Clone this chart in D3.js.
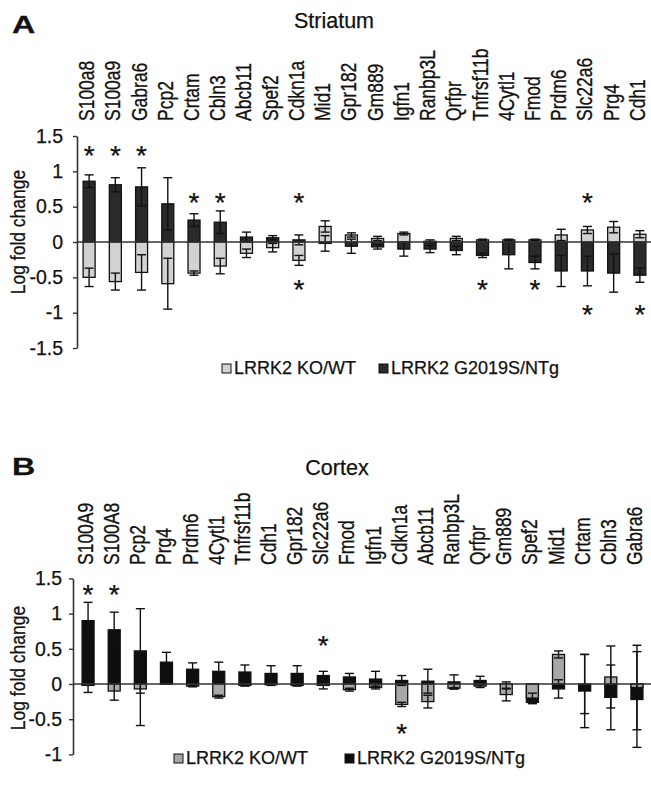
<!DOCTYPE html>
<html>
<head>
<meta charset="utf-8">
<script src="https://cdn.jsdelivr.net/npm/d3@7"></script>
<style>
  body { margin: 0; background: #fff; }
  svg { display: block; }
  text { font-family: "Liberation Sans", Arial, sans-serif; fill: #111; stroke: #111; stroke-width: 0.25px; }
</style>
</head>
<body>
<script>
// Striatum (panel A)
var genesA = ['S100a8','S100a9','Gabra6','Pcp2','Crtam','Cbln3','Abcb11','Spef2','Cdkn1a','Mid1','Gpr182',
   'Gm889','Igfn1','Ranbp3L','Qrfpr','Tnfrsf11b','4Cytl1','Fmod','Prdm6','Slc22a6','Prg4','Cdh1'];
var koA    = [-0.50,-0.56,-0.43,-0.59,-0.44,-0.34,-0.16,-0.08,-0.26, 0.22, 0.10, 0.05, 0.12, 0.01, 0.05, 0.03, 0.03, 0.03, 0.10, 0.17, 0.21, 0.11];
var koErrA = [ 0.13, 0.12, 0.25, 0.36, 0.03, 0.11, 0.06, 0.06, 0.07, 0.08, 0.03, 0.03, 0.02, 0.02, 0.03, 0.01, 0.01, 0.01, 0.08, 0.05, 0.08, 0.05];
var tgA    = [ 0.86, 0.81, 0.78, 0.54, 0.31, 0.28, 0.07, 0.06, 0.03,-0.02,-0.06,-0.07,-0.10,-0.10,-0.12,-0.19,-0.18,-0.29,-0.41,-0.41,-0.44,-0.47];
var tgErrA = [ 0.09, 0.10, 0.27, 0.37, 0.09, 0.16, 0.07, 0.03, 0.07, 0.11, 0.10, 0.03, 0.10, 0.05, 0.06, 0.03, 0.20, 0.09, 0.22, 0.21, 0.27, 0.10];
var starGenesA = ['S100a8','S100a9','Gabra6','Crtam','Cbln3','Cdkn1a','Cdkn1a','Tnfrsf11b','Fmod','Slc22a6','Slc22a6','Cdh1'];
var starValsA  = [ 1.33, 1.33, 1.33, 0.67, 0.67, 0.67, -0.56, -0.56, -0.56, 0.67, -0.92, -0.92];
var ticksA = [1.5, 1, 0.5, 0, -0.5, -1, -1.5];
var tickLabelsA = ['1.5','1','0.5','0','-0.5','-1','-1.5'];

// Cortex (panel B)
var genesB = ['S100A9','S100A8','Pcp2','Prg4','Prdm6','4Cytl1','Tnfrsf11b','Cdh1','Gpr182','Slc22a6','Fmod',
   'Igfn1','Cdkn1a','Abcb11','Ranbp3L','Qrfpr','Gm889','Spef2','Mid1','Crtam','Cbln3','Gabra6'];
var koB    = [-0.02,-0.10,-0.07, 0.01,-0.03,-0.18,-0.02,-0.01,-0.02,-0.02,-0.08,-0.05,-0.29,-0.25,-0.06,-0.03,-0.15,-0.20, 0.42, 0.00, 0.10,-0.05];
var koErrB = [ 0.10, 0.13, 0.52, 0.01, 0.01, 0.02, 0.01, 0.01, 0.01, 0.05, 0.02, 0.02, 0.03, 0.09, 0.01, 0.02, 0.09, 0.07, 0.05, 0.42, 0.44, 0.60];
var tgB    = [ 0.90, 0.77, 0.47, 0.31, 0.21, 0.18, 0.17, 0.15, 0.15, 0.12, 0.10, 0.07, 0.05, 0.04, 0.03, 0.05,-0.02,-0.26,-0.07,-0.10,-0.19,-0.22];
var tgErrB = [ 0.26, 0.25, 0.60, 0.14, 0.09, 0.13, 0.10, 0.11, 0.11, 0.06, 0.05, 0.11, 0.07, 0.17, 0.10, 0.06, 0.05, 0.02, 0.13, 0.52, 0.46, 0.68];
var starGenesB = ['S100A9','S100A8','Slc22a6','Cdkn1a'];
var starValsB  = [ 1.38, 1.38, 0.66, -0.59];
var ticksB = [1.5, 1, 0.5, 0, -0.5, -1];
var tickLabelsB = ['1.5','1','0.5','0','-0.5','-1'];

var seriesNames = ['LRRK2 KO/WT', 'LRRK2 G2019S/NTg'];

var svg = d3.select('body').append('svg')
   .attr('width', 651)
   .attr('height', 786);

function drawPanel(p){
   var x = d3.scaleBand().domain(p.genes).range(p.xr);
   var y = d3.scaleLinear().domain([p.ticks[p.ticks.length-1], p.ticks[0]]).range(p.yr);
   var g = svg.append('g');
   var bw = 12;

   // panel letter + title
   g.append('text')
      .attr('transform', 'translate(' + p.letterPos[0] + ',' + p.letterPos[1] + ') scale(1.4,1)')
      .attr('font-size', 23).attr('font-weight', 'bold')
      .text(p.letter);
   g.append('text')
      .attr('x', p.titlePos[0]).attr('y', p.titlePos[1])
      .attr('text-anchor', 'middle').attr('font-size', 21.5)
      .text(p.title);

   // gene labels
   g.selectAll('.gene').data(p.genes).enter()
      .append('text')
      .attr('class', 'gene')
      .attr('font-size', 17.5)
      .attr('transform', function(d){
         return 'translate(' + (x(d) + x.bandwidth()/2 + 5) + ',' + p.labelY + ') rotate(-90) scale(1,1.3)';
      })
      .text(function(d){ return d; });

   // y axis
   var axis = d3.axisLeft(y)
      .tickValues(p.ticks)
      .tickSize(4)
      .tickSizeOuter(0)
      .tickPadding(p.tickPad)
      .tickFormat(function(d, i){ return p.tickLabels[i]; });
   var ax = g.append('g')
      .attr('transform', 'translate(' + p.axisX + ',0)')
      .call(axis);
   ax.select('.domain').attr('stroke', '#333').attr('stroke-width', 1.6);
   ax.selectAll('.tick line').attr('stroke', '#333').attr('stroke-width', 1.4);
   ax.selectAll('.tick text').attr('font-size', 19.5).attr('fill', '#111')
      .attr('font-family', '"Liberation Sans", Arial, sans-serif');

   g.append('text')
      .attr('transform', 'translate(25,' + p.ylabY + ') rotate(-90) scale(1,1.15)')
      .attr('text-anchor', 'middle').attr('font-size', 17.5)
      .text('Log fold change');

   // bars: G2019S first, KO drawn over it
   var series = [
      {vals: p.tg, errs: p.tgErr, fill: p.tgFill},
      {vals: p.ko, errs: p.koErr, fill: p.koFill}
   ];
   series.forEach(function(s){
      g.append('g').selectAll('rect').data(p.genes).enter()
         .append('rect')
         .attr('x', function(d){ return x(d) + (x.bandwidth() - bw)/2; })
         .attr('width', bw)
         .attr('y', function(d, i){ return y(Math.max(0, s.vals[i])); })
         .attr('height', function(d, i){ return Math.abs(y(s.vals[i]) - y(0)); })
         .attr('fill', s.fill)
         .attr('stroke', '#111')
         .attr('stroke-width', 1.3);
   });

   // error bars
   series.forEach(function(s){
      var eb = g.append('g').attr('stroke', '#111').attr('stroke-width', 1.4);
      p.genes.forEach(function(d, i){
         var cx = x(d) + x.bandwidth()/2;
         var lo = y(s.vals[i] - s.errs[i]), hi = y(s.vals[i] + s.errs[i]);
         eb.append('line').attr('x1', cx).attr('x2', cx).attr('y1', lo).attr('y2', hi);
         eb.append('line').attr('x1', cx - 4.5).attr('x2', cx + 4.5).attr('y1', lo).attr('y2', lo);
         eb.append('line').attr('x1', cx - 4.5).attr('x2', cx + 4.5).attr('y1', hi).attr('y2', hi);
      });
   });

   // zero line
   g.append('line')
      .attr('x1', p.axisX).attr('x2', 651)
      .attr('y1', y(0)).attr('y2', y(0))
      .attr('stroke', '#333').attr('stroke-width', 1.7);

   // significance stars
   g.selectAll('.star').data(p.starGenes).enter()
      .append('text')
      .attr('class', 'star')
      .attr('x', function(d){ return x(d) + x.bandwidth()/2; })
      .attr('y', function(d, i){ return y(p.starVals[i]); })
      .attr('dy', '0.62em')
      .attr('text-anchor', 'middle')
      .attr('font-size', 28)
      .text('*');

   // legend
   var lg = g.append('g');
   seriesNames.forEach(function(name, i){
      var lx = p.legendX[i];
      lg.append('rect')
         .attr('x', lx).attr('y', p.legendY - 10)
         .attr('width', 9).attr('height', 9)
         .attr('fill', i == 0 ? p.koFill : p.tgFill)
         .attr('stroke', '#111').attr('stroke-width', 1);
      lg.append('text')
         .attr('x', lx + 12).attr('y', p.legendY)
         .attr('font-size', 18)
         .text(name);
   });
}

drawPanel({
   letter: 'A', letterPos: [12, 33], title: 'Striatum', titlePos: [334, 28],
   genes: genesA, ko: koA, koErr: koErrA, tg: tgA, tgErr: tgErrA,
   starGenes: starGenesA, starVals: starValsA,
   ticks: ticksA, tickLabels: tickLabelsA,
   xr: [76, 653], yr: [348, 136], axisX: 77, tickPad: 10,
   labelY: 121, ylabY: 232,
   koFill: '#d2d2d2', tgFill: '#2a2a2a',
   legendX: [222, 379], legendY: 374
});

drawPanel({
   letter: 'B', letterPos: [12, 475], title: 'Cortex', titlePos: [337, 475],
   genes: genesB, ko: koB, koErr: koErrB, tg: tgB, tgErr: tgErrB,
   starGenes: starGenesB, starVals: starValsB,
   ticks: ticksB, tickLabels: tickLabelsB,
   xr: [75, 650], yr: [754.4, 578.4], axisX: 73, tickPad: 7,
   labelY: 565, ylabY: 668,
   koFill: '#a8a8a8', tgFill: '#0e0e0e',
   legendX: [174, 345], legendY: 764
});
</script>
</body>
</html>
